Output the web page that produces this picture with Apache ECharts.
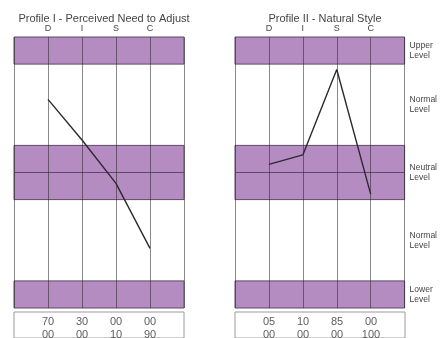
<!DOCTYPE html>
<html>
<head>
<meta charset="utf-8">
<script src="https://cdn.jsdelivr.net/npm/echarts@6/dist/echarts.min.js"></script>
<style>html,body{margin:0;padding:0;background:#fff}#c{width:440px;height:338px}</style>
</head>
<body>
<div id="c"></div>
<script>
// ---- data ----
var categories = ['D', 'I', 'S', 'C'];
var titles = ['Profile I - Perceived Need to Adjust', 'Profile II - Natural Style'];
var profile1 = [54, 24, -8, -56];
var profile2 = [6, 13, 76, -16];
var table1Row1 = ['70', '30', '00', '00'];
var table1Row2 = ['00', '00', '10', '90'];
var table2Row1 = ['05', '10', '85', '00'];
var table2Row2 = ['00', '00', '00', '100'];
var bandRanges = [[80, 100], [0, 20], [-20, 0], [-100, -80]];
var levelValues = [90, 50, 0, -50, -90];
var levelNames = ['Upper\nLevel', 'Normal\nLevel', 'Neutral\nLevel', 'Normal\nLevel', 'Lower\nLevel'];

var PURPLE = '#b58cc1';
var BORDER = '#5e4866';
var TEXT = '#444';
var FONT = 'Liberation Sans, Arial, sans-serif';

function pts(vals) { return vals.map(function (v, i) { return [i + 1, v]; }); }
function tablePts(r1, r2) {
  var out = [];
  r1.forEach(function (t, i) { out.push({ value: [i + 1, 'r1'], txt: t }); });
  r2.forEach(function (t, i) { out.push({ value: [i + 1, 'r2'], txt: t }); });
  return out;
}
var levelMap = {};
levelValues.forEach(function (v, i) { levelMap[v] = levelNames[i]; });

var panelLeft = [14, 235];
var W = 170;

var grids = [], xAxes = [], yAxes = [], series = [], titleArr = [];
[0, 1].forEach(function (p) {
  grids.push({ left: panelLeft[p], top: 37, width: W, height: 271, show: false });
  grids.push({ left: panelLeft[p], top: 312, width: W, height: 28, show: true, borderColor: '#9a9a9a', borderWidth: 1, backgroundColor: '#fff' });
  titleArr.push({
    text: titles[p], left: panelLeft[p] + W / 2, top: 8, textAlign: 'center',
    textStyle: { fontSize: 11, fontWeight: 'normal', color: TEXT, fontFamily: FONT }
  });
  // panel axes
  xAxes.push({
    gridIndex: 2 * p, type: 'value', min: 0, max: 5, interval: 1, position: 'top', z: 2,
    axisLine: { show: false }, axisTick: { show: false },
    axisLabel: { margin: 4, fontSize: 9, color: TEXT, fontFamily: FONT,
      formatter: function (v) { return categories[v - 1] || ''; } },
    splitLine: { show: true, lineStyle: { color: 'rgba(40,40,40,0.55)', width: 1 } }
  });
  yAxes.push({
    gridIndex: 2 * p, type: 'value', min: -100, max: 100, interval: 10,
    position: 'right', show: p === 1,
    axisLine: { show: false }, axisTick: { show: false }, splitLine: { show: false },
    axisLabel: { show: p === 1, margin: 5, fontSize: 8.5, lineHeight: 10, color: TEXT, fontFamily: FONT, align: 'left',
      formatter: function (v) { return levelMap[v] || ''; } }
  });
  // table axes
  xAxes.push({ gridIndex: 2 * p + 1, type: 'value', min: 0, max: 5, show: false });
  yAxes.push({ gridIndex: 2 * p + 1, type: 'category', data: ['r1', 'r2'], inverse: true, show: false });

  series.push({
    type: 'line', xAxisIndex: 2 * p, yAxisIndex: 2 * p, data: [], silent: true,
    markArea: {
      silent: true,
      itemStyle: { color: PURPLE, borderColor: BORDER, borderWidth: 1 },
      data: bandRanges.map(function (r) { return [{ yAxis: r[0] }, { yAxis: r[1] }]; })
    }
  });
  series.push({
    type: 'line', xAxisIndex: 2 * p, yAxisIndex: 2 * p, z: 5,
    data: pts(p === 0 ? profile1 : profile2),
    showSymbol: false, symbol: 'none',
    lineStyle: { color: '#2e2830', width: 1.4 }
  });
  series.push({
    type: 'scatter', xAxisIndex: 2 * p + 1, yAxisIndex: 2 * p + 1,
    data: p === 0 ? tablePts(table1Row1, table1Row2) : tablePts(table2Row1, table2Row2),
    symbolSize: 1, itemStyle: { color: 'rgba(0,0,0,0)' },
    label: { show: true, position: 'inside', offset: [0, 3], fontSize: 11, color: '#333', fontFamily: FONT,
      formatter: function (d) { return d.data.txt; } }
  });
});

var chart = echarts.init(document.getElementById('c'), null, { renderer: 'canvas' });
chart.setOption({
  animation: false,
  backgroundColor: '#fff',
  title: titleArr,
  grid: grids,
  xAxis: xAxes,
  yAxis: yAxes,
  series: series
});
</script>
</body>
</html>
